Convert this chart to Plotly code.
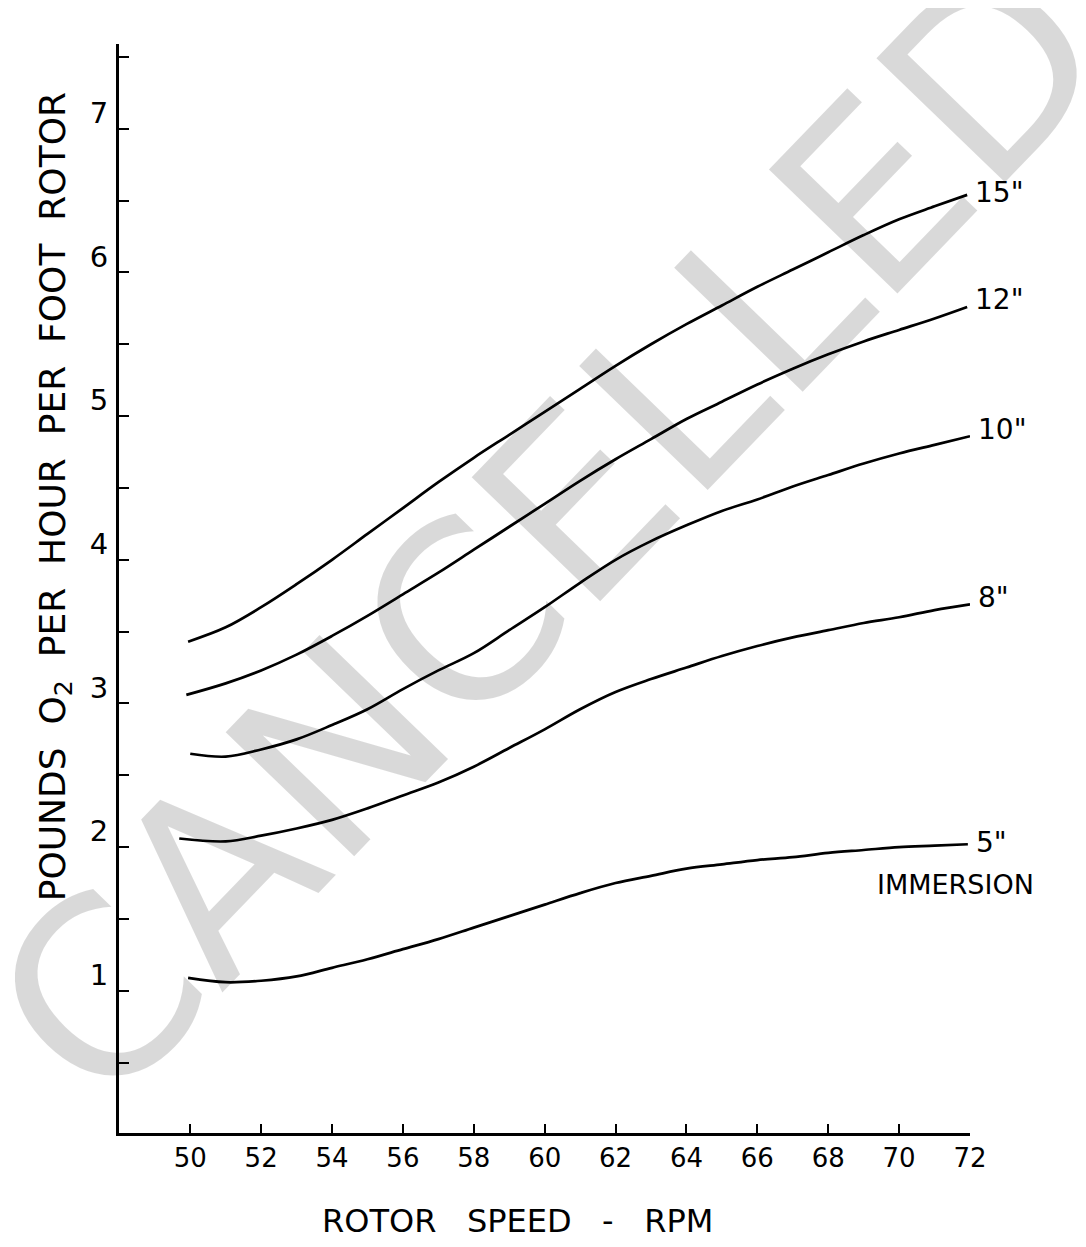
import plotly.graph_objects as go

# ---- data ----
rpm_15 = [49.94, 51, 52, 53, 54, 55, 56, 57, 58, 59, 60, 61, 62, 63, 64, 65, 66, 67, 68, 69, 70, 71, 71.92]
o2_15 = [3.43, 3.53, 3.67, 3.83, 4.00, 4.18, 4.36, 4.54, 4.71, 4.87, 5.03, 5.19, 5.35, 5.50,
         5.64, 5.77, 5.90, 6.02, 6.14, 6.26, 6.37, 6.46, 6.54]

rpm_12 = [49.89, 51, 52, 53, 54, 55, 56, 57, 58, 59, 60, 61, 62, 63, 64, 65, 66, 67, 68, 69, 70, 71, 71.92]
o2_12 = [3.06, 3.14, 3.23, 3.34, 3.47, 3.61, 3.76, 3.91, 4.07, 4.23, 4.39, 4.55, 4.70, 4.84,
         4.98, 5.10, 5.22, 5.33, 5.43, 5.52, 5.60, 5.68, 5.76]

rpm_10 = [50.0, 51, 52, 53, 54, 55, 56, 57, 58, 59, 60, 61, 62, 63, 64, 65, 66, 67, 68, 69, 70, 71, 72]
o2_10 = [2.65, 2.63, 2.68, 2.75, 2.85, 2.96, 3.10, 3.23, 3.35, 3.51, 3.67, 3.84, 4.00, 4.13,
         4.24, 4.34, 4.42, 4.51, 4.59, 4.67, 4.74, 4.80, 4.86]

rpm_8 = [49.69, 51, 52, 53, 54, 55, 56, 57, 58, 59, 60, 61, 62, 63, 64, 65, 66, 67, 68, 69, 70, 71, 72]
o2_8 = [2.06, 2.04, 2.08, 2.13, 2.19, 2.27, 2.36, 2.45, 2.56, 2.69, 2.82, 2.96, 3.08, 3.17,
        3.25, 3.33, 3.40, 3.46, 3.51, 3.56, 3.60, 3.65, 3.69]

rpm_5 = [49.94, 51, 52, 53, 54, 55, 56, 57, 58, 59, 60, 61, 62, 63, 64, 65, 66, 67, 68, 69, 70, 71, 71.94]
o2_5 = [1.09, 1.06, 1.07, 1.10, 1.16, 1.22, 1.29, 1.36, 1.44, 1.52, 1.60, 1.68, 1.75, 1.80,
        1.85, 1.88, 1.91, 1.93, 1.96, 1.98, 2.00, 2.01, 2.02]

curve_labels = ['15"', '12"', '10"', '8"', '5"']

x_tick_vals = [50, 52, 54, 56, 58, 60, 62, 64, 66, 68, 70, 72]
x_tick_text = ["50", "52", "54", "56", "58", "60", "62", "64", "66", "68", "70", "72"]
y_tick_vals = [1, 2, 3, 4, 5, 6, 7]
y_tick_text = ["1", "2", "3", "4", "5", "6", "7"]

x_title = "ROTOR\u00a0\u00a0 SPEED\u00a0\u00a0 -\u00a0\u00a0 RPM"
y_title = "POUNDS\u00a0 O<sub>2</sub>\u00a0 PER\u00a0 HOUR\u00a0 PER\u00a0 FOOT\u00a0 ROTOR"
watermark = "CANCELLED"
immersion_text = "IMMERSION"

FONT = "DejaVu Sans"

# plot area in page pixels (page body has an 8px margin)
PL, PR, PT, PB = 118.5, 970, 44, 1133.5
PW, PH = PR - PL, PB - PT
X_RANGE = [47.99, 72]
Y_RANGE = [0.0104, 7.59]


def px_to_paper(px, py):
    return (px - PL) / PW, (PB - py) / PH


series = [(rpm_15, o2_15), (rpm_12, o2_12), (rpm_10, o2_10), (rpm_8, o2_8), (rpm_5, o2_5)]
label_yshift = [2, 7, 7, 7, 2]

fig = go.Figure()
for (xs, ys), name in zip(series, curve_labels):
    fig.add_trace(go.Scatter(
        x=xs, y=ys, mode="lines", name=name,
        line=dict(color="black", width=2.7, shape="spline", smoothing=1.0),
        showlegend=False, hoverinfo="skip"))

annotations = []
for (xs, ys), name, ysh in zip(series, curve_labels, label_yshift):
    annotations.append(dict(
        x=xs[-1], y=ys[-1], xref="x", yref="y", text=name, showarrow=False,
        xanchor="left", yanchor="middle", xshift=6, yshift=ysh,
        font=dict(family=FONT, size=28, color="black")))

annotations.append(dict(
    x=rpm_5[-1], y=o2_5[-1], xref="x", yref="y", text=immersion_text, showarrow=False,
    xanchor="right", yanchor="middle", xshift=68, yshift=-40,
    font=dict(family=FONT, size=27, color="black")))

# axis titles
tx, ty = px_to_paper(517, 1222)
annotations.append(dict(
    x=tx, y=ty, xref="paper", yref="paper",
    text=x_title, showarrow=False, xanchor="center", yanchor="middle",
    font=dict(family=FONT, size=32, color="black")))
tx, ty = px_to_paper(55, 497)
annotations.append(dict(
    x=tx, y=ty, xref="paper", yref="paper",
    text=y_title, showarrow=False, textangle=-90, xanchor="center", yanchor="middle",
    font=dict(family=FONT, size=36, color="black")))

# watermark (translucent so the curves stay black where they cross it)
tx, ty = px_to_paper(550, 532)
annotations.append(dict(
    x=tx, y=ty, xref="paper", yref="paper",
    text=watermark, showarrow=False, textangle=-46, xanchor="center", yanchor="middle",
    font=dict(family=FONT, size=245, color="rgba(0,0,0,0.15)")))

fig.update_layout(
    width=1078, height=1239,
    margin=dict(l=PL - 8, r=1086 - PR, t=PT - 8, b=1247 - PB),
    paper_bgcolor="white", plot_bgcolor="white",
    annotations=annotations,
    xaxis=dict(
        range=X_RANGE, showgrid=False, zeroline=False,
        showline=True, linecolor="black", linewidth=3,
        ticks="inside", ticklen=9, tickwidth=2, tickcolor="black",
        tickvals=x_tick_vals, ticktext=x_tick_text,
        tickfont=dict(family=FONT, size=26, color="black")),
    yaxis=dict(
        range=Y_RANGE, showgrid=False, zeroline=False,
        showline=True, linecolor="black", linewidth=3,
        ticks="inside", ticklen=10, tickwidth=2, tickcolor="black",
        tickvals=y_tick_vals, ticktext=y_tick_text,
        ticklabelshift=-16, ticklabelstandoff=2,
        minor=dict(dtick=0.5, tick0=0, ticks="inside", ticklen=10, tickwidth=2,
                   tickcolor="black", showgrid=False),
        tickfont=dict(family=FONT, size=29, color="black")),
)

fig.write_html("out.html")
